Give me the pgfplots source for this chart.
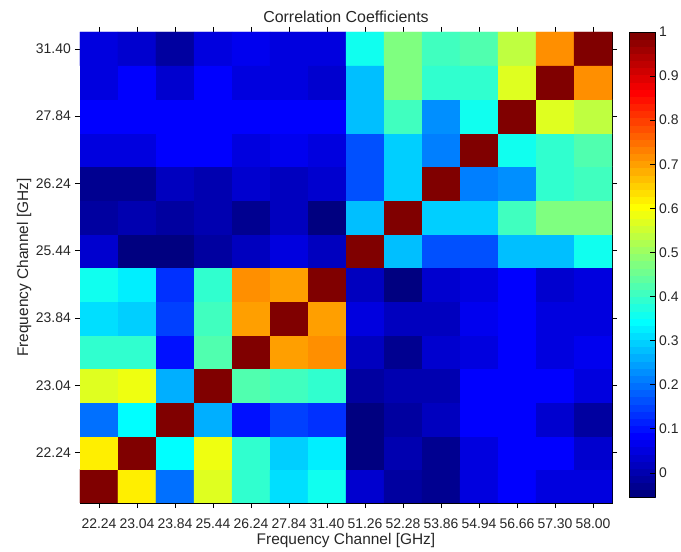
\documentclass[border=0pt]{standalone}
\usepackage{pgfplots}
\pgfplotsset{compat=1.18}
\usepackage{fontspec}
\setmainfont{Liberation Sans}
\pgfplotsset{colormap/jet, colormap={jet64}{samples of colormap=(65 of jet)}}
\pgfplotsset{/pgf/number format/assume math mode=true}
\pgfplotstableread{
x y c
1 1 1
2 1 0.62
3 1 0.20
4 1 0.57
5 1 0.39
6 1 0.31
7 1 0.36
8 1 0.033
9 1 -0.013
10 1 -0.037
11 1 0.05
12 1 0.075
13 1 0.056
14 1 0.052
1 2 0.62
2 2 1
3 2 0.34
4 2 0.58
5 2 0.39
6 2 0.30
7 2 0.33
8 2 -0.05
9 2 -0.006
10 2 -0.032
11 2 0.05
12 2 0.08
13 2 0.075
14 2 0.033
1 3 0.20
2 3 0.34
3 3 1
4 3 0.26
5 3 0.10
6 3 0.15
7 3 0.13
8 3 -0.055
9 3 -0.021
10 3 0.02
11 3 0.077
12 3 0.085
13 3 0.033
14 3 -0.011
1 4 0.57
2 4 0.58
3 4 0.26
4 4 1
5 4 0.43
6 4 0.40
7 4 0.39
8 4 -0.021
9 4 -0.001
10 4 -0.006
11 4 0.077
12 4 0.085
13 4 0.075
14 4 0.043
1 5 0.39
2 5 0.39
3 5 0.10
4 5 0.43
5 5 1
6 5 0.70
7 5 0.72
8 5 0.015
9 5 -0.037
10 5 0.039
11 5 0.052
12 5 0.08
13 5 0.052
14 5 0.07
1 6 0.31
2 6 0.30
3 6 0.15
4 6 0.40
5 6 0.70
6 6 1
7 6 0.70
8 6 0.043
9 6 0.02
10 6 0.015
11 6 0.07
12 6 0.08
13 6 0.052
14 6 0.056
1 7 0.36
2 7 0.33
3 7 0.13
4 7 0.39
5 7 0.72
6 7 0.70
7 7 1
8 7 0.025
9 7 -0.05
10 7 0.03
11 7 0.048
12 7 0.08
13 7 0.036
14 7 0.052
1 8 0.033
2 8 -0.05
3 8 -0.055
4 8 -0.021
5 8 0.015
6 8 0.043
7 8 0.025
8 8 1
9 8 0.27
10 8 0.16
11 8 0.16
12 8 0.27
13 8 0.27
14 8 0.36
1 9 -0.013
2 9 -0.006
3 9 -0.021
4 9 -0.001
5 9 -0.037
6 9 0.02
7 9 -0.05
8 9 0.27
9 9 1
10 9 0.30
11 9 0.30
12 9 0.40
13 9 0.47
14 9 0.47
1 10 -0.037
2 10 -0.032
3 10 0.02
4 10 -0.006
5 10 0.039
6 10 0.015
7 10 0.03
8 10 0.16
9 10 0.30
10 10 1
11 10 0.22
12 10 0.23
13 10 0.39
14 10 0.40
1 11 0.05
2 11 0.05
3 11 0.077
4 11 0.077
5 11 0.052
6 11 0.07
7 11 0.048
8 11 0.16
9 11 0.30
10 11 0.22
11 11 1
12 11 0.36
13 11 0.39
14 11 0.42
1 12 0.075
2 12 0.08
3 12 0.085
4 12 0.085
5 12 0.08
6 12 0.08
7 12 0.08
8 12 0.27
9 12 0.40
10 12 0.23
11 12 0.36
12 12 1
13 12 0.57
14 12 0.54
1 13 0.056
2 13 0.075
3 13 0.033
4 13 0.075
5 13 0.052
6 13 0.052
7 13 0.036
8 13 0.27
9 13 0.47
10 13 0.39
11 13 0.39
12 13 0.57
13 13 1
14 13 0.72
1 14 0.052
2 14 0.033
3 14 -0.011
4 14 0.043
5 14 0.07
6 14 0.056
7 14 0.052
8 14 0.36
9 14 0.47
10 14 0.40
11 14 0.42
12 14 0.54
13 14 0.72
14 14 1
}\corrtable
\begin{document}
\begin{tikzpicture}
\useasboundingbox (-80bp,-49bp) rectangle (601bp,503bp);
\begin{axis}[
  at={(0,0)}, anchor=south west,
  scale only axis, width=532bp, height=471bp,
  xmin=0.5, xmax=14.5, ymin=0.5, ymax=14.5,
  enlargelimits=false,
  colormap name=jet64, colormap access=piecewise constant,
  point meta min=-0.055, point meta max=1,
  xtick={1,...,14},
  xticklabels={22.24,23.04,23.84,25.44,26.24,27.84,31.40,51.26,52.28,53.86,54.94,56.66,57.30,58.00},
  ytick={2,4,...,14},
  yticklabels={22.24,23.04,23.84,25.44,26.24,27.84,31.40},
  tick align=outside, major tick length=5bp,
  xtick pos=both, ytick pos=both, xticklabel pos=lower, yticklabel pos=left,
  tick style={black, line width=0.5bp},
  axis line style={black, line width=0.6bp},
  ticklabel style={font=\fontsize{14}{16}\selectfont, text=black!85},
  xticklabel style={anchor=base, inner sep=0pt, yshift=-20bp},
  yticklabel style={anchor=east, inner sep=0pt, xshift=-4bp},
  xlabel={Frequency Channel [GHz]},
  ylabel={Frequency Channel [GHz]},
  xlabel style={at={(0.5,0)}, anchor=base, inner sep=0pt, yshift=-41bp, font=\fontsize{15.5}{18}\selectfont, text=black!85},
  ylabel style={at={(-0.0977,0.5)}, anchor=base, inner sep=0pt, font=\fontsize{15.5}{18}\selectfont, text=black!85},
  title={Correlation Coefficients},
  title style={at={(0.5,1)}, anchor=base, inner sep=0pt, yshift=4bp, font=\fontsize{16}{19}\selectfont, text=black!85},
  colorbar shift/.style={xshift=17bp},
  colorbar,
  colorbar style={
    at={(parent axis.north east)}, anchor=north west,
    scale only axis, width=26bp, height=465bp,
    ytick={0,0.1,0.2,0.3,0.4,0.5,0.6,0.7,0.8,0.9,1},
    yticklabels={0,0.1,0.2,0.3,0.4,0.5,0.6,0.7,0.8,0.9,1},
    ytick pos=right, yticklabel pos=right, tick align=inside,
    major tick length=5bp,
    yticklabel style={anchor=west, inner sep=0pt, xshift=4bp, font=\fontsize{14}{16}\selectfont, text=black!85},
    axis line style={black, line width=0.6bp},
    tick style={black, line width=0.5bp},
  },
]
\addplot[matrix plot*, mesh/cols=14, point meta=explicit] table[x=x, y=y, meta=c] {\corrtable};
\end{axis}
\end{tikzpicture}
\end{document}
